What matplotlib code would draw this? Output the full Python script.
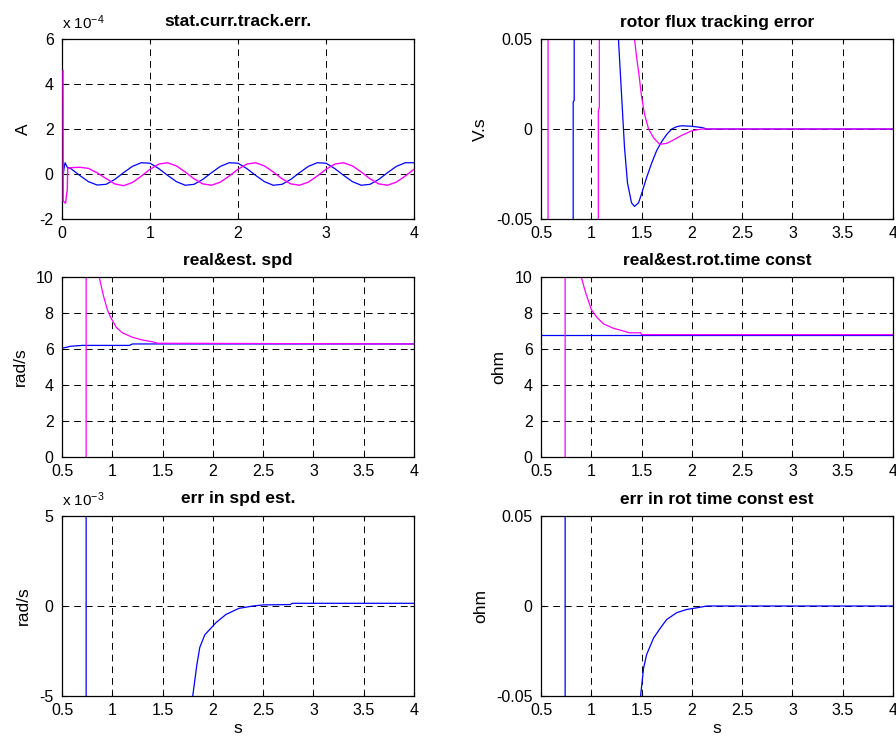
import numpy as np
import matplotlib
matplotlib.use("Agg")
import matplotlib.pyplot as plt

plt.rcParams['font.family'] = ['Liberation Sans', 'DejaVu Sans']
plt.rcParams['mathtext.default'] = 'regular'
plt.rcParams['axes.unicode_minus'] = False

BLUE = (0, 0, 1)
MAGENTA = (1, 0, 1)

# --- stat.curr.track.err. (units of 1e-4 A)
t_cur = [0.01, 0.015, 0.025, 0.035, 0.06] + [round(0.1 * k, 1) for k in range(1, 41)]
cur_blue = [0.6, 0.0, 0.3, 0.5, 0.3,
            0.24, -0.06, -0.34, -0.49, -0.46, -0.24, 0.06, 0.34, 0.5,
            0.48, 0.24, -0.06, -0.34, -0.5, -0.46, -0.24, 0.06, 0.34, 0.5,
            0.48, 0.24, -0.06, -0.34, -0.5, -0.46, -0.24, 0.06, 0.34, 0.5,
            0.48, 0.24, -0.06, -0.34, -0.5, -0.46, -0.24, 0.06, 0.34, 0.5,
            0.5]
t_cur_m = [0.012, 0.014, 0.04, 0.06, 0.065] + [round(0.1 * k, 1) for k in range(1, 41)]
cur_mag = [4.6, -1.2, -1.3, -0.7, 0.25,
           0.28, 0.3, 0.25, 0.05, -0.2, -0.44, -0.52, -0.38, -0.1,
           0.21, 0.44, 0.5, 0.36, 0.09, -0.21, -0.44, -0.5, -0.36, -0.09,
           0.21, 0.44, 0.5, 0.36, 0.09, -0.21, -0.44, -0.5, -0.36, -0.09,
           0.21, 0.44, 0.5, 0.36, 0.09, -0.21, -0.44, -0.5, -0.36, -0.09,
           0.21]

# --- rotor flux tracking error (V.s)
t_flux_b = [0.82, 0.82, 0.83, 0.83, 1.25, 1.27, 1.29, 1.31, 1.33, 1.36, 1.40, 1.43,
            1.47, 1.50, 1.55, 1.60, 1.65, 1.70, 1.75, 1.80, 1.85, 1.90, 2.0, 2.1, 2.15, 4.0]
flux_blue = [-0.5, 0.015, 0.016, 0.5, 0.5, 0.05, 0.03, 0.01, -0.01, -0.03, -0.041, -0.043,
             -0.041, -0.036, -0.027, -0.019, -0.012, -0.007, -0.003, 0.0, 0.0013, 0.0018, 0.0015,
             0.0008, 0.0, 0.0]
t_flux_m = [0.57, 0.57, 1.07, 1.07, 1.08, 1.08, 1.41, 1.43, 1.45, 1.47, 1.50, 1.53, 1.57,
            1.62, 1.68, 1.75, 1.82, 1.90, 2.0, 2.1, 4.0]
flux_mag = [0.5, -0.5, -0.5, 0.01, 0.012, 0.5, 0.5, 0.05, 0.04, 0.032, 0.018, 0.008, 0.0,
            -0.005, -0.0085, -0.008, -0.006, -0.0035, -0.001, 0.0, 0.0]

# --- real&est. spd (rad/s)
t_spd_b = [0.5, 0.55, 0.58, 0.70, 1.17, 1.20, 4.0]
spd_blue = [6.05, 6.1, 6.15, 6.2, 6.2, 6.28, 6.28]
t_spd_m = [0.74, 0.74, 0.85, 0.87, 0.91, 0.95, 0.98, 1.04, 1.10, 1.20, 1.30, 1.40, 1.45, 4.0]
spd_mag = [-5, 30, 12, 10, 9.0, 8.2, 7.8, 7.2, 6.9, 6.65, 6.5, 6.4, 6.32, 6.28]

# --- real&est.rot.time const
t_tc_b = [0.5, 4.0]
tc_blue = [6.8, 6.8]
t_tc_m = [0.74, 0.74, 0.88, 0.90, 0.94, 0.97, 1.0, 1.05, 1.12, 1.22, 1.32, 1.38, 1.49, 1.5, 4.0]
tc_mag = [-5, 30, 12, 10, 9.2, 8.7, 8.2, 7.8, 7.4, 7.15, 7.0, 6.9, 6.9, 6.8, 6.8]

# --- err in spd est. (units of 1e-3 rad/s)
t_espd = [0.74, 0.74, 1.75, 1.80, 1.84, 1.87, 1.92, 1.97, 2.03, 2.13, 2.26, 2.40, 2.50,
          2.77, 2.79, 4.0]
espd = [50, -50, -20, -5, -3.3, -2.3, -1.6, -1.3, -0.93, -0.47, -0.13, 0.0, 0.06,
        0.08, 0.15, 0.15]

# --- err in rot time const est (ohm)
t_etc = [0.74, 0.74, 1.47, 1.49, 1.52, 1.55, 1.62, 1.69, 1.75, 1.85, 1.95, 2.05, 2.15, 4.0]
etc = [0.5, -0.5, -0.5, -0.05, -0.0345, -0.027, -0.0177, -0.012, -0.0075, -0.0037,
       -0.0019, -0.001, 0.0, 0.0]

half_ticks = [0.5, 1, 1.5, 2, 2.5, 3, 3.5, 4]
half_labels = ['0.5', '1', '1.5', '2', '2.5', '3', '3.5', '4']

fig = plt.figure(figsize=(8.96, 7.40), dpi=100)
lefts = [62 / 896, 541 / 896]
w = 352 / 896
h = 180 / 740
bottoms = [(740 - 219) / 740, (740 - 457) / 740, (740 - 696) / 740]

axes = []
for r in range(3):
    for c in range(2):
        axes.append(fig.add_axes([lefts[c], bottoms[r], w, h]))


def style(ax, title, ylabel, xlim, ylim, xticks, xlabels, yticks, ylabels):
    ax.set_xlim(xlim)
    ax.set_ylim(ylim)
    ax.set_xticks(xticks)
    ax.set_xticklabels(xlabels)
    ax.set_yticks(yticks)
    ax.set_yticklabels(ylabels)
    ax.set_title(title, fontsize=12.5, fontweight='bold', pad=9)
    ax.set_ylabel(ylabel, fontsize=12.5, labelpad=6)
    ax.grid(True, color='k', linestyle=(0, (7, 5)), linewidth=0.7)
    ax.tick_params(direction='in', length=3, labelsize=11.5, top=True, right=True)
    ax.tick_params(axis='x', pad=5)
    ax.tick_params(axis='y', pad=6)
    for s in ax.spines.values():
        s.set_linewidth(0.9)


lw = 0.9
ax = axes[0]
ax.plot(t_cur, cur_blue, color=BLUE, lw=lw)
ax.plot(t_cur_m, cur_mag, color=MAGENTA, lw=1.0, zorder=3)
style(ax, 'stat.curr.track.err.', 'A', (0, 4), (-2, 6), [0, 1, 2, 3, 4],
      ['0', '1', '2', '3', '4'], [-2, 0, 2, 4, 6], ['-2', '0', '2', '4', '6'])
ax.text(0, 1.04, 'x 10$^{-4}$', transform=ax.transAxes, fontsize=11, ha='left', va='bottom')

ax = axes[1]
ax.plot(t_flux_b, flux_blue, color=BLUE, lw=lw)
ax.plot(t_flux_m, flux_mag, color=MAGENTA, lw=lw)
style(ax, 'rotor flux tracking error', 'V.s', (0.5, 4), (-0.05, 0.05), half_ticks,
      half_labels, [-0.05, 0, 0.05], ['-0.05', '0', '0.05'])

ax = axes[2]
ax.plot(t_spd_b, spd_blue, color=BLUE, lw=lw)
ax.plot(t_spd_m, spd_mag, color=MAGENTA, lw=lw)
style(ax, 'real&est. spd', 'rad/s', (0.5, 4), (0, 10), half_ticks, half_labels,
      [0, 2, 4, 6, 8, 10], ['0', '2', '4', '6', '8', '10'])

ax = axes[3]
ax.plot(t_tc_b, tc_blue, color=BLUE, lw=lw)
ax.plot(t_tc_m, tc_mag, color=MAGENTA, lw=lw)
style(ax, 'real&est.rot.time const', 'ohm', (0.5, 4), (0, 10), half_ticks, half_labels,
      [0, 2, 4, 6, 8, 10], ['0', '2', '4', '6', '8', '10'])

ax = axes[4]
ax.plot(t_espd, espd, color=BLUE, lw=lw)
style(ax, 'err in spd est.', 'rad/s', (0.5, 4), (-5, 5), half_ticks, half_labels,
      [-5, 0, 5], ['-5', '0', '5'])
ax.text(0, 1.04, 'x 10$^{-3}$', transform=ax.transAxes, fontsize=11, ha='left', va='bottom')
ax.set_xlabel('s', fontsize=12.5, labelpad=2)

ax = axes[5]
ax.plot(t_etc, etc, color=BLUE, lw=lw)
style(ax, 'err in rot time const est', 'ohm', (0.5, 4), (-0.05, 0.05), half_ticks,
      half_labels, [-0.05, 0, 0.05], ['-0.05', '0', '0.05'])
ax.set_xlabel('s', fontsize=12.5, labelpad=2)

fig.savefig('out.png', dpi=100)
